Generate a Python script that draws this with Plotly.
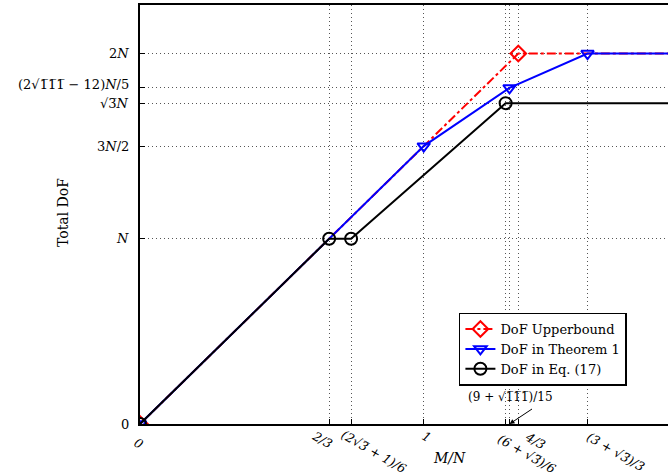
import math
import plotly.graph_objects as go

s3 = math.sqrt(3)
s111 = math.sqrt(111)

# x tick values / labels (M/N)
x_tick_vals = [0, 2/3, (2*s3+1)/6, 1, (6+s3)/6, (9+s111)/15, 4/3, (3+s3)/3]
x_tick_text = ["0", "2/3", "(2√3̅ + 1)/6", "1", "(6 + √3̅)/6", "", "4/3", "(3 + √3̅)/3"]

# y tick values / labels (Total DoF)
y_tick_vals = [0, 1, 1.5, s3, (2*s111-12)/5, 2]
y_tick_text = ["0", "<i>N</i>", "3<i>N</i>/2", "√3̅<i>N</i>",
               "(2√1̅1̅1̅ − 12)<i>N</i>/5", "2<i>N</i>"]

# series
ub_x = [0, 4/3, 2.0]
ub_y = [0, 2, 2]
thm_x = [0, 1, (9+s111)/15, (3+s3)/3, 2.0]
thm_y = [0, 1.5, (2*s111-12)/5, 2, 2]
eq_x = [0, 2/3, (2*s3+1)/6, (6+s3)/6, 2.0]
eq_y = [0, 1, 1, s3, s3]

FONT = "DejaVu Serif"

# label placement (pixel offsets of rotated x tick label centres from tick / axis)
x_label_dx = [-1, -7, 23, 3, 21, 0, 17, 28]
x_label_dy = [19, 15, 27, 12, 29, 0, 16, 27]
y_label_dy = [0, 0, 0, 0, 3, 0]

fig = go.Figure()
fig.add_trace(go.Scatter(x=ub_x, y=ub_y, name="DoF Upperbound", mode="lines+markers",
                         line=dict(color="red", width=2, dash="dashdot"),
                         marker=dict(symbol="diamond-open", size=12, color="red",
                                     line=dict(width=2, color="red"))))
fig.add_trace(go.Scatter(x=thm_x, y=thm_y, name="DoF in Theorem 1", mode="lines+markers",
                         line=dict(color="blue", width=2),
                         marker=dict(symbol="triangle-down-open", size=11, color="blue",
                                     line=dict(width=2, color="blue"))))
fig.add_trace(go.Scatter(x=eq_x, y=eq_y, name="DoF in Eq. (17)", mode="lines+markers",
                         line=dict(color="black", width=2),
                         marker=dict(symbol="circle-open", size=12, color="black",
                                     line=dict(width=2, color="black"))))

# x tick labels as rotated text
for v, t, dx, dy in zip(x_tick_vals, x_tick_text, x_label_dx, x_label_dy):
    if not t:
        continue
    fig.add_annotation(x=v, y=0, xref="x", yref="paper", text=f"<i>{t}</i>",
                       showarrow=False, textangle=30, xanchor="center", yanchor="middle",
                       xshift=dx, yshift=-dy,
                       font=dict(family=FONT, size=12.5, color="black"))
# y tick labels
for v, t, dy in zip(y_tick_vals, y_tick_text, y_label_dy):
    fig.add_annotation(x=0, y=v, xref="paper", yref="y", text=t, showarrow=False,
                       xanchor="right", yanchor="middle", xshift=-9, yshift=dy,
                       font=dict(family=FONT, size=13, color="black"))

fig.add_annotation(x=(9+s111)/15, y=0, xref="x", yref="y", text="", showarrow=True,
                   arrowhead=2, arrowsize=1, arrowwidth=1, arrowcolor="black",
                   ax=24, ay=-16)
fig.add_annotation(x=1.307, y=0.145, xref="x", yref="y",
                   text="(9 + √1̅1̅1̅)/15", showarrow=False,
                   font=dict(family=FONT, size=12, color="black"))
# axis titles
fig.add_annotation(x=(449 - 140) / 528, y=-(458 - 424) / 419, xref="paper", yref="paper",
                   xanchor="center", yanchor="middle",
                   text="<i>M/N</i>", showarrow=False,
                   font=dict(family=FONT, size=14, color="black"))
fig.add_annotation(x=-(140 - 63) / 528, y=(424 - 213) / 419, xref="paper", yref="paper",
                   xanchor="center", yanchor="middle",
                   text="Total DoF", showarrow=False, textangle=-90,
                   font=dict(family=FONT, size=14, color="black"))

fig.update_layout(
    width=668, height=476,
    margin=dict(l=140, r=0, t=5, b=52, autoexpand=False),
    paper_bgcolor="white", plot_bgcolor="white",
    font=dict(family=FONT, color="black", size=12),
    showlegend=True,
    legend=dict(x=0.604, y=0.266, xanchor="left", yanchor="top",
                bgcolor="white", bordercolor="black", borderwidth=1.5,
                font=dict(family=FONT, size=13), tracegroupgap=0,
                itemwidth=30, entrywidth=158, entrywidthmode="pixels"),
)
fig.update_xaxes(range=[0, 1.861], tickmode="array", tickvals=x_tick_vals,
                 showticklabels=False, ticks="inside", ticklen=5,
                 tickcolor="black", showline=True, linecolor="black", linewidth=2,
                 mirror=True, showgrid=True, gridcolor="#555", griddash="1px,3px",
                 gridwidth=1, zeroline=False, automargin=False)
fig.update_yaxes(range=[0, 2.262], tickmode="array", tickvals=y_tick_vals,
                 showticklabels=False, ticks="inside", ticklen=5,
                 tickcolor="black", showline=True, linecolor="black", linewidth=2,
                 showgrid=True, gridcolor="#555", griddash="1px,3px", gridwidth=1,
                 zeroline=False, automargin=False)

fig.write_html("out.html", config={"displayModeBar": False},
               post_script="document.body.style.margin='0';document.body.style.overflow='hidden';")
